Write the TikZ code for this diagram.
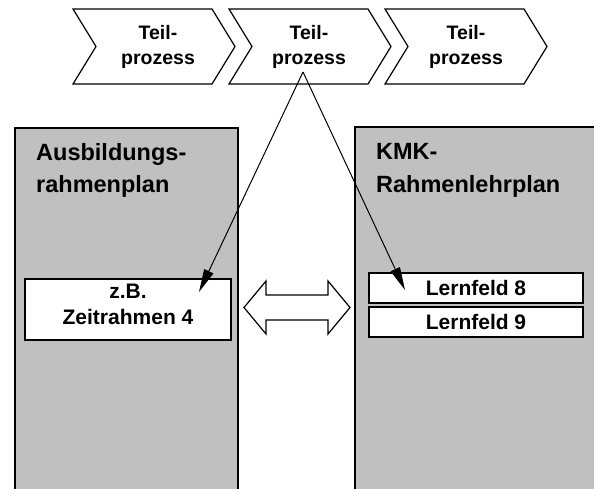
\documentclass[tikz,border=0pt]{standalone}
\usepackage{fontspec}
\setmainfont{Liberation Sans}
\usetikzlibrary{arrows.meta}
\definecolor{boxgray}{HTML}{C0C0C0}
\tikzset{
  chev/.style={draw=black, line width=1.2pt, fill=white},
  chevtxt/.style={font=\fontsize{19.5}{25}\selectfont\bfseries, inner sep=0pt, anchor=base},
  hdtxt/.style={font=\fontsize{23.5}{32}\selectfont\bfseries, inner sep=0pt, anchor=base west},
  bodytxt/.style={font=\fontsize{21}{26}\selectfont\bfseries, inner sep=0pt, anchor=base},
  planbox/.style={draw=black, line width=1.6pt, fill=boxgray},
  whitebox/.style={draw=black, line width=1.6pt, fill=white, inner sep=0pt},
  conn/.style={draw=black, line width=1pt, -{Triangle[length=23pt,width=10pt]}},
}
\begin{document}
\begin{tikzpicture}[x=1pt,y=-1pt]
\useasboundingbox (0,0) rectangle (594,488);
% chevrons
\foreach \x in {73,229,385}{
  \draw[chev] (\x,9) -- (\x+139,9) -- (\x+162,46.5) -- (\x+139,84) -- (\x,84) -- (\x+23,46.5) -- cycle;
}
\node[chevtxt] (c1a) at (158,39) {Teil-};
\node[chevtxt] (c1b) at (158,64) {prozess};
\node[chevtxt] (c2a) at (309,39) {Teil-};
\node[chevtxt] (c2b) at (309,64) {prozess};
\node[chevtxt] (c3a) at (466,39) {Teil-};
\node[chevtxt] (c3b) at (466,64) {prozess};
% plan boxes
\draw[planbox] (15,500) -- (15,128) -- (238,128) -- (238,500);
\draw[planbox] (355,500) -- (355,127) -- (610,127);
\fill[boxgray] (355.8,127.8) rectangle (600,500);
\node[hdtxt] (a1) at (36,160) {Ausbildungs-};
\node[hdtxt] (a2) at (36,192) {rahmenplan};
\node[hdtxt] (k1) at (376,159) {KMK-};
\node[hdtxt] (k2) at (376,192) {Rahmenlehrplan};
% inner boxes
\node[whitebox, minimum width=206pt, minimum height=61pt] (zeit) at (128,309.5) {};
\node[bodytxt] (z1) at (128,298) {z.B.};
\node[bodytxt] (z2) at (128,324) {Zeitrahmen 4};
\node[whitebox, minimum width=214pt, minimum height=30pt, font=\fontsize{21}{26}\selectfont\bfseries] (lf8) at (476,288) {Lernfeld 8};
\node[whitebox, minimum width=214pt, minimum height=30pt, font=\fontsize{21}{26}\selectfont\bfseries] (lf9) at (476,322) {Lernfeld 9};
% double arrow
\draw[line width=1.2pt, fill=white] (244,307.5) -- (266,281) -- (266,295) -- (328,295) -- (328,281) -- (350,307.5) -- (328,334) -- (328,320) -- (266,320) -- (266,334) -- cycle;
% connectors
\coordinate (src) at (303,72);
\coordinate (zt) at (199,292);
\coordinate (lt) at (405,290);
\draw[conn] (src) -- (zt);
\draw[conn] (src) -- (lt);
\end{tikzpicture}
\end{document}
